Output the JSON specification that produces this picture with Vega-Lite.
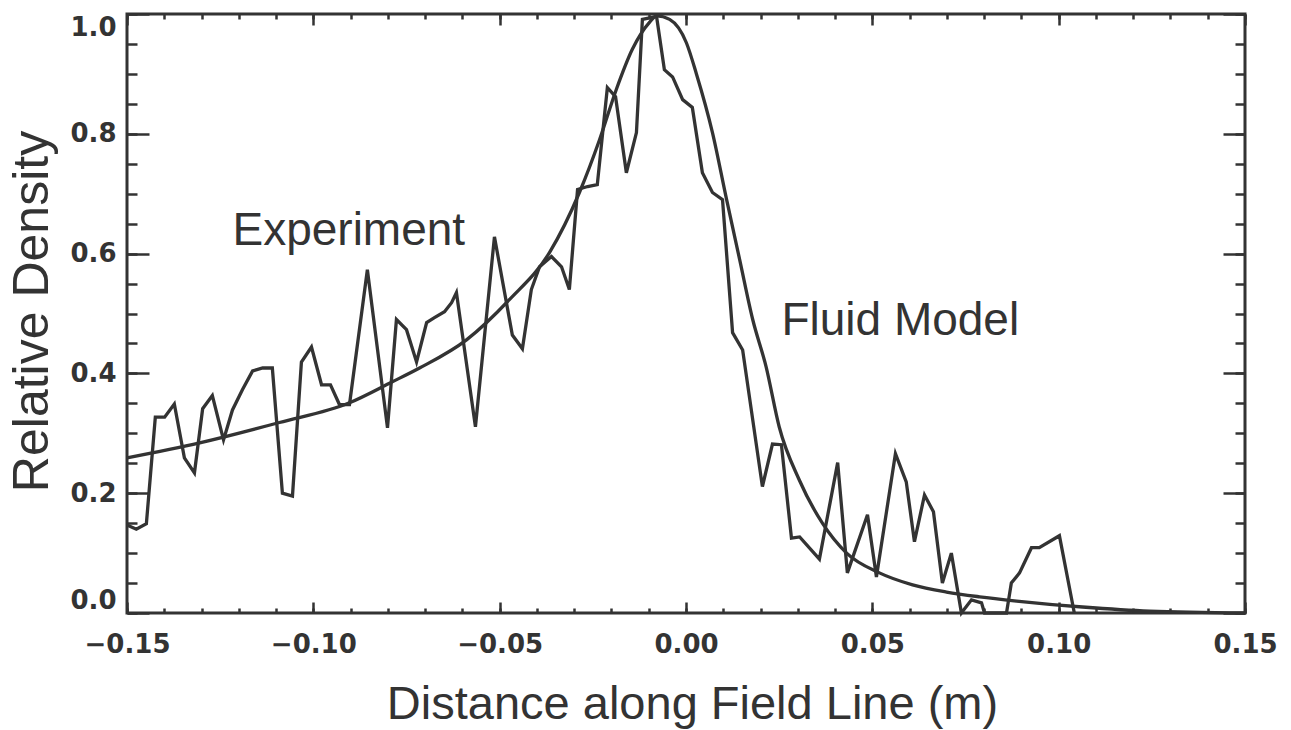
{
  "$schema": "https://vega.github.io/schema/vega-lite/v6.json",
  "width": 1118,
  "height": 599,
  "autosize": "none",
  "padding": {"left": 127, "top": 14, "right": 46, "bottom": 117},
  "background": "white",
  "config": {
    "view": {"stroke": "#333333", "strokeWidth": 3},
    "axis": {
      "domain": false,
      "grid": false,
      "tickColor": "#333333",
      "tickWidth": 2.5,
      "labelColor": "#333333",
      "titleColor": "#333333",
      "labelFont": "DejaVu Sans",
      "labelFontWeight": "bold",
      "labelFontSize": 26,
      "titleFont": "Liberation Sans",
      "titleFontWeight": "normal",
      "titleFontSize": 47
    }
  },
  "resolve": {"axis": {"x": "independent", "y": "independent"}},
  "layer": [
    {
      "data": {"values": [
        {"x": -0.15, "y": 0.147}, {"x": -0.1475, "y": 0.14}, {"x": -0.1448, "y": 0.149}, {"x": -0.1424, "y": 0.327},
        {"x": -0.1399, "y": 0.327}, {"x": -0.1373, "y": 0.349}, {"x": -0.1346, "y": 0.259}, {"x": -0.1319, "y": 0.234},
        {"x": -0.1297, "y": 0.341}, {"x": -0.1271, "y": 0.363}, {"x": -0.1241, "y": 0.289}, {"x": -0.1217, "y": 0.339},
        {"x": -0.119, "y": 0.373}, {"x": -0.1163, "y": 0.404}, {"x": -0.1136, "y": 0.409}, {"x": -0.111, "y": 0.409},
        {"x": -0.1083, "y": 0.2}, {"x": -0.1056, "y": 0.195}, {"x": -0.1032, "y": 0.419}, {"x": -0.1005, "y": 0.444},
        {"x": -0.0978, "y": 0.381}, {"x": -0.0954, "y": 0.381}, {"x": -0.093, "y": 0.348}, {"x": -0.0903, "y": 0.348},
        {"x": -0.0855, "y": 0.573}, {"x": -0.0801, "y": 0.309}, {"x": -0.0777, "y": 0.49}, {"x": -0.075, "y": 0.473},
        {"x": -0.0723, "y": 0.419}, {"x": -0.0696, "y": 0.485}, {"x": -0.0675, "y": 0.493}, {"x": -0.0648, "y": 0.503},
        {"x": -0.0629, "y": 0.518}, {"x": -0.0616, "y": 0.535}, {"x": -0.0565, "y": 0.311}, {"x": -0.0514, "y": 0.628},
        {"x": -0.0466, "y": 0.464}, {"x": -0.0439, "y": 0.441}, {"x": -0.0415, "y": 0.54}, {"x": -0.0393, "y": 0.578},
        {"x": -0.0361, "y": 0.595}, {"x": -0.0334, "y": 0.578}, {"x": -0.0313, "y": 0.54}, {"x": -0.0291, "y": 0.707},
        {"x": -0.0264, "y": 0.712}, {"x": -0.0238, "y": 0.715}, {"x": -0.0211, "y": 0.877}, {"x": -0.0189, "y": 0.862},
        {"x": -0.016, "y": 0.735}, {"x": -0.0133, "y": 0.802}, {"x": -0.0117, "y": 0.991}, {"x": -0.0079, "y": 0.996},
        {"x": -0.0058, "y": 0.907}, {"x": -0.0036, "y": 0.895}, {"x": -0.0009, "y": 0.857}, {"x": 0.0017, "y": 0.844},
        {"x": 0.0044, "y": 0.735}, {"x": 0.0071, "y": 0.702}, {"x": 0.0098, "y": 0.69}, {"x": 0.0125, "y": 0.468},
        {"x": 0.0152, "y": 0.439}, {"x": 0.0205, "y": 0.211}, {"x": 0.0232, "y": 0.282}, {"x": 0.0256, "y": 0.281},
        {"x": 0.0283, "y": 0.125}, {"x": 0.0305, "y": 0.127}, {"x": 0.0358, "y": 0.09}, {"x": 0.0407, "y": 0.251},
        {"x": 0.0433, "y": 0.067}, {"x": 0.0487, "y": 0.164}, {"x": 0.0511, "y": 0.06}, {"x": 0.0562, "y": 0.266},
        {"x": 0.0591, "y": 0.219}, {"x": 0.0613, "y": 0.119}, {"x": 0.064, "y": 0.197}, {"x": 0.0664, "y": 0.169},
        {"x": 0.0688, "y": 0.05}, {"x": 0.0712, "y": 0.1}, {"x": 0.0739, "y": 0.0}, {"x": 0.0766, "y": 0.022},
        {"x": 0.0793, "y": 0.017}, {"x": 0.0801, "y": 0.0}, {"x": 0.086, "y": 0.0}, {"x": 0.0873, "y": 0.05},
        {"x": 0.0895, "y": 0.067}, {"x": 0.0927, "y": 0.109}, {"x": 0.0948, "y": 0.109}, {"x": 0.1002, "y": 0.129},
        {"x": 0.1042, "y": 0.0}
      ]},
      "mark": {"type": "line", "color": "#333333", "strokeWidth": 3.3, "strokeJoin": "miter"},
      "encoding": {
        "x": {
          "field": "x", "type": "quantitative",
          "scale": {"domain": [-0.15, 0.15], "nice": false, "zero": false},
          "axis": {
            "orient": "bottom", "title": "Distance along Field Line (m)",
            "values": [-0.15, -0.1, -0.05, 0, 0.05, 0.1, 0.15],
            "format": ".2f", "labelFlush": false, "labelOverlap": false,
            "tickSize": -11, "labelPadding": 29,
            "titleX": 565, "titleY": 105, "titleBaseline": "alphabetic", "titleAnchor": null
          }
        },
        "y": {
          "field": "y", "type": "quantitative",
          "scale": {"domain": [0, 1], "nice": false, "zero": true},
          "axis": {
            "orient": "left", "title": "Relative Density",
            "values": [0, 0.2, 0.4, 0.6, 0.8, 1.0],
            "format": ".1f", "labelFlush": true, "labelOverlap": false,
            "tickSize": -22, "labelPadding": 33,
            "titleX": -80, "titleY": 297, "titleBaseline": "alphabetic", "titleFontSize": 50
          }
        }
      }
    },
    {
      "data": {"values": [
        {"x": -0.15, "y": 0.259}, {"x": -0.1305, "y": 0.284}, {"x": -0.1091, "y": 0.318}, {"x": -0.0903, "y": 0.351},
        {"x": -0.0788, "y": 0.386}, {"x": -0.0715, "y": 0.409}, {"x": -0.0589, "y": 0.456}, {"x": -0.0474, "y": 0.523},
        {"x": -0.0366, "y": 0.602}, {"x": -0.0286, "y": 0.702}, {"x": -0.0232, "y": 0.79}, {"x": -0.0187, "y": 0.874},
        {"x": -0.0144, "y": 0.941}, {"x": -0.0098, "y": 0.986}, {"x": -0.0079, "y": 0.997}, {"x": -0.0044, "y": 0.991},
        {"x": 0.0001, "y": 0.952}, {"x": 0.0028, "y": 0.9}, {"x": 0.0071, "y": 0.802}, {"x": 0.0109, "y": 0.69},
        {"x": 0.0144, "y": 0.59}, {"x": 0.0179, "y": 0.49}, {"x": 0.0215, "y": 0.411}, {"x": 0.025, "y": 0.311},
        {"x": 0.0304, "y": 0.222}, {"x": 0.0366, "y": 0.15}, {"x": 0.0431, "y": 0.1}, {"x": 0.0519, "y": 0.067},
        {"x": 0.0608, "y": 0.047}, {"x": 0.0699, "y": 0.035}, {"x": 0.0788, "y": 0.027}, {"x": 0.0887, "y": 0.02},
        {"x": 0.1064, "y": 0.01}, {"x": 0.1244, "y": 0.003}, {"x": 0.15, "y": 0.0}
      ]},
      "mark": {"type": "line", "color": "#333333", "strokeWidth": 3.3, "interpolate": "monotone"},
      "encoding": {
        "x": {
          "field": "x", "type": "quantitative",
          "axis": {
            "orient": "bottom", "title": null, "labels": false,
            "values": [-0.15,-0.14,-0.13,-0.12,-0.11,-0.1,-0.09,-0.08,-0.07,-0.06,-0.05,-0.04,-0.03,-0.02,-0.01,0,0.01,0.02,0.03,0.04,0.05,0.06,0.07,0.08,0.09,0.1,0.11,0.12,0.13,0.14,0.15],
            "tickSize": -5
          }
        },
        "y": {
          "field": "y", "type": "quantitative",
          "axis": {
            "orient": "left", "title": null, "labels": false,
            "values": [0,0.05,0.1,0.15,0.2,0.25,0.3,0.35,0.4,0.45,0.5,0.55,0.6,0.65,0.7,0.75,0.8,0.85,0.9,0.95,1.0],
            "tickSize": -10
          }
        }
      }
    },
    {
      "data": {"values": [{"x": -0.1217, "y": 0.614, "label": "Experiment"}]},
      "mark": {"type": "text", "align": "left", "baseline": "alphabetic", "font": "Liberation Sans", "fontSize": 46, "color": "#333333"},
      "encoding": {
        "x": {
          "field": "x", "type": "quantitative",
          "axis": {
            "orient": "top", "title": null, "labels": false,
            "values": [-0.15, -0.1, -0.05, 0, 0.05, 0.1, 0.15],
            "tickSize": -11
          }
        },
        "y": {
          "field": "y", "type": "quantitative",
          "axis": {
            "orient": "right", "title": null, "labels": false,
            "values": [0, 0.2, 0.4, 0.6, 0.8, 1.0],
            "tickSize": -22
          }
        },
        "text": {"field": "label"}
      }
    },
    {
      "data": {"values": [{"x": 0.0256, "y": 0.464, "label": "Fluid Model"}]},
      "mark": {"type": "text", "align": "left", "baseline": "alphabetic", "font": "Liberation Sans", "fontSize": 46, "color": "#333333"},
      "encoding": {
        "x": {
          "field": "x", "type": "quantitative",
          "axis": {
            "orient": "top", "title": null, "labels": false,
            "values": [-0.15,-0.14,-0.13,-0.12,-0.11,-0.1,-0.09,-0.08,-0.07,-0.06,-0.05,-0.04,-0.03,-0.02,-0.01,0,0.01,0.02,0.03,0.04,0.05,0.06,0.07,0.08,0.09,0.1,0.11,0.12,0.13,0.14,0.15],
            "tickSize": -5
          }
        },
        "y": {
          "field": "y", "type": "quantitative",
          "axis": {
            "orient": "right", "title": null, "labels": false,
            "values": [0,0.05,0.1,0.15,0.2,0.25,0.3,0.35,0.4,0.45,0.5,0.55,0.6,0.65,0.7,0.75,0.8,0.85,0.9,0.95,1.0],
            "tickSize": -10
          }
        },
        "text": {"field": "label"}
      }
    }
  ]
}
